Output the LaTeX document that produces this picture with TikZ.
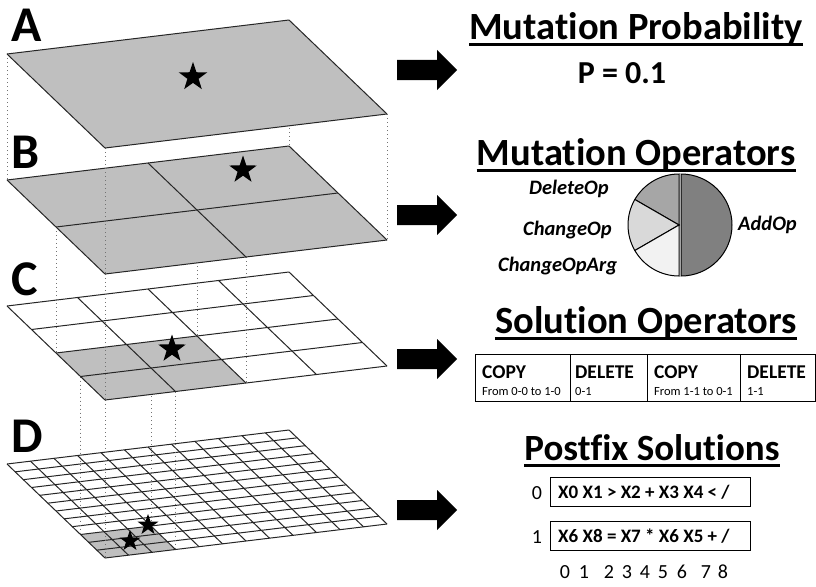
\documentclass[tikz,border=0pt]{standalone}
\usepackage{fontspec}
\setmainfont[Ligatures={NoCommon}]{Carlito}
\usetikzlibrary{shapes.geometric}
\definecolor{planegray}{RGB}{191,191,191}
\definecolor{pieAdd}{RGB}{128,128,128}
\definecolor{pieDel}{RGB}{166,166,166}
\definecolor{pieChg}{RGB}{217,217,217}
\definecolor{pieArg}{RGB}{242,242,242}
\newcommand{\drawplane}[3]{%
  \begin{scope}[shift={(7,#1)}, x={(282pt,34pt)}, y={(98pt,-94pt)}]
    \fill[white] (0,0) -- (1,0) -- (1,1) -- (0,1) -- cycle;
    #3
    \foreach \i in {0,...,#2} {
      \draw[gridline] (\i/#2,0) -- (\i/#2,1);
      \draw[gridline] (0,\i/#2) -- (1,\i/#2);
    }
  \end{scope}}
\newcommand{\blockarrow}[1]{%
  \fill[black] (397,#1) ++(0,-10) -- ++(40,0) -- ++(0,-10) -- ++(20,20)
    -- ++(-20,20) -- ++(0,-10) -- ++(-40,0) -- cycle;}
\begin{document}
\begin{tikzpicture}[x=1pt,y=-1pt,
  gridline/.style={draw=black!85, line width=1pt},
  dotline/.style={draw=black!55, line width=1pt, dash pattern=on 1pt off 3pt},
  starnode/.style={star, star points=5, star point ratio=2.55, fill=black, inner sep=0pt},
  letter/.style={font=\fontsize{50}{56}\selectfont\bfseries, anchor=base west, inner sep=0pt},
  title/.style={font=\fontsize{38.5}{44}\selectfont\bfseries, anchor=base, inner sep=0pt},
  pielabel/.style={font=\fontsize{20.5}{24}\selectfont\bfseries\itshape, anchor=base west, inner sep=0pt},
  cellbox/.style={draw=black, line width=1.2pt, anchor=north west, minimum height=47pt, inner sep=0pt},
  cellhead/.style={font=\fontsize{19.5}{22}\selectfont\bfseries, anchor=base west, inner sep=0pt},
  cellsub/.style={font=\fontsize{12.5}{14}\selectfont, anchor=base west, inner sep=0pt},
  pbox/.style={draw=black, line width=1.2pt, anchor=north west, minimum width=200pt, minimum height=29pt, inner sep=0pt},
  ptext/.style={font=\fontsize{19}{22}\selectfont\bfseries, anchor=base west, inner sep=0pt},
  digit/.style={font=\fontsize{20}{22}\selectfont, anchor=base, inner sep=0pt}]
\useasboundingbox (0,0) rectangle (816,586);
\fill[white] (0,0) rectangle (816,586);

% corner coordinates of the four planes
\foreach \n/\y in {A/54,B/180,C/306,D/464}{
  \begin{scope}[shift={(7,\y)}, x={(282pt,34pt)}, y={(98pt,-94pt)}]
    \coordinate (\n-L) at (0,0);
    \coordinate (\n-B) at (1,0);
    \coordinate (\n-R) at (1,1);
    \coordinate (\n-F) at (0,1);
    \coordinate (\n-q1) at (0,0.5);
    \coordinate (\n-q2) at (0.5,0.5);
    \coordinate (\n-q3) at (0.5,1);
    \coordinate (\n-e1) at (0,0.75);
    \coordinate (\n-e2) at (0.25,0.75);
    \coordinate (\n-e3) at (0.25,1);
  \end{scope}}

% plane D
\drawplane{464}{12}{\fill[planegray] (0,0.75) -- (0.25,0.75) -- (0.25,1) -- (0,1) -- cycle;}
\draw[dotline] (C-e1) -- (D-e1);
\draw[dotline] (C-e2) -- (D-e2);
\draw[dotline] (C-e3) -- (D-e3);
\draw[dotline] (C-F) -- (D-F);
% plane C
\drawplane{306}{4}{\fill[planegray] (0,0.5) -- (0.5,0.5) -- (0.5,1) -- (0,1) -- cycle;}
\draw[dotline] (B-q1) -- (C-q1);
\draw[dotline] (B-q2) -- (C-q2);
\draw[dotline] (B-q3) -- (C-q3);
\draw[dotline] (B-F) -- (C-F);
% plane B
\drawplane{180}{2}{\fill[planegray] (0,0) -- (1,0) -- (1,1) -- (0,1) -- cycle;}
\draw[dotline] (A-L) -- (B-L);
\draw[dotline] (A-B) -- (B-B);
\draw[dotline] (A-R) -- (B-R);
\draw[dotline] (A-F) -- (B-F);
% plane A
\drawplane{54}{1}{\fill[planegray] (0,0) -- (1,0) -- (1,1) -- (0,1) -- cycle;}

% stars
\node[starnode, minimum size=30pt] (sA) at (193,77) {};
\node[starnode, minimum size=29pt] (sB) at (243,170) {};
\node[starnode, minimum size=29pt] (sC) at (172,349) {};
\node[starnode, minimum size=22pt] (sD1) at (148,525) {};
\node[starnode, minimum size=22pt] (sD2) at (130,541) {};

% letters
\node[letter] (lA) at (11,42) {A};
\node[letter] (lB) at (11,168) {B};
\node[letter] (lC) at (11,295) {C};
\node[letter] (lD) at (11,452) {D};

% block arrows
\blockarrow{70}
\blockarrow{215}
\blockarrow{359}
\blockarrow{510}

% titles
\node[title] (t1) at (636,40) {Mutation Probability};
\node[title] (t2) at (636,165) {Mutation Operators};
\node[title] (t3) at (646,333) {Solution Operators};
\node[title, font=\fontsize{37}{42}\selectfont\bfseries] (t4) at (652,460) {Postfix Solutions};
\foreach \t in {t1,t2,t3,t4}{
  \draw[line width=3pt] ([yshift=-5pt]\t.base west) -- ([yshift=-5pt]\t.base east);}

\node[font=\fontsize{32}{36}\selectfont\bfseries, anchor=base, inner sep=0pt] (prob) at (622,84) {P = 0.1};

% pie chart
\begin{scope}[shift={(679,225)}, x=1pt, y=1pt, line width=1pt]
  \filldraw[fill=pieAdd] (2,0) -- ++(-90:51pt) arc[start angle=-90, end angle=90, radius=51pt] -- cycle;
  \filldraw[fill=pieDel] (0,0) -- (90:51pt) arc[start angle=90, end angle=150, radius=51pt] -- cycle;
  \filldraw[fill=pieChg] (0,0) -- (150:51pt) arc[start angle=150, end angle=210, radius=51pt] -- cycle;
  \filldraw[fill=pieArg] (0,0) -- (210:51pt) arc[start angle=210, end angle=270, radius=51pt] -- cycle;
\end{scope}
\node[pielabel] (lDel) at (529,194) {DeleteOp};
\node[pielabel] (lChg) at (523,235) {ChangeOp};
\node[pielabel] (lArg) at (498,271) {ChangeOpArg};
\node[pielabel] (lAdd) at (738,230) {AddOp};

% solution operators table
\node[cellbox, minimum width=95pt] (c1) at (475,354) {};
\node[cellbox, minimum width=77pt] (c2) at (570,354) {};
\node[cellbox, minimum width=93pt] (c3) at (647,354) {};
\node[cellbox, minimum width=75pt] (c4) at (740,354) {};
\node[cellhead] (h1) at (482,378) {COPY};
\node[cellsub] (s1) at (482,395) {From 0-0 to 1-0};
\node[cellhead] (h2) at (575,378) {DELETE};
\node[cellsub] (s2) at (575,395) {0-1};
\node[cellhead] (h3) at (654,378) {COPY};
\node[cellsub] (s3) at (654,395) {From 1-1 to 0-1};
\node[cellhead] (h4) at (747,378) {DELETE};
\node[cellsub] (s4) at (747,395) {1-1};

% postfix solutions
\node[pbox] (p0) at (550,477) {};
\node[pbox] (p1) at (550,521) {};
\node[ptext] (x0) at (558,498) {X0 X1 > X2 + X3 X4 < /};
\node[ptext] (x1) at (558,542) {X6 X8 = X7 * X6 X5 + /};
\node[digit] (r0) at (537,499) {0};
\node[digit] (r1) at (537,543) {1};
\foreach \d/\x in {0/565,1/584,2/609,3/627,4/645,5/663,6/682,7/706,8/723}{
  \node[digit] (n\d) at (\x,578) {\d};}
\end{tikzpicture}
\end{document}
